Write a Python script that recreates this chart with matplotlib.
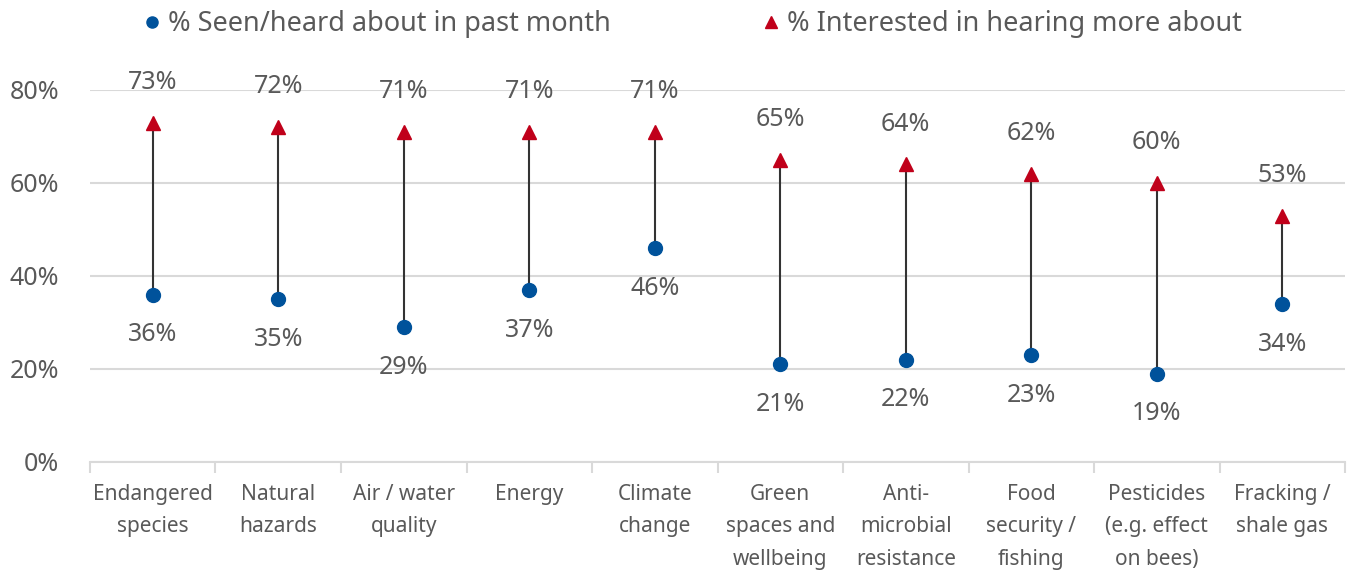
import matplotlib.pyplot as plt
import numpy as np

categories = ["Endangered\nspecies", "Natural\nhazards", "Air / water\nquality", "Energy",
              "Climate\nchange", "Green\nspaces and\nwellbeing", "Anti-\nmicrobial\nresistance",
              "Food\nsecurity /\nfishing", "Pesticides\n(e.g. effect\non bees)", "Fracking /\nshale gas"]
seen = [36, 35, 29, 37, 46, 21, 22, 23, 19, 34]
interested = [73, 72, 71, 71, 71, 65, 64, 62, 60, 53]

blue = '#00529B'
red = '#C0001A'
grey_text = '#595959'

plt.rcParams['font.family'] = ['Noto Sans', 'DejaVu Sans']

fig = plt.figure(figsize=(13.51, 5.71), dpi=100)
ax = fig.add_axes([0.0666, 0.1909, 0.929, 0.6515])

x = np.arange(len(categories))

# connecting lines between the two values
for i in x:
    ax.plot([i, i], [seen[i], interested[i]], color='#333333', lw=1.5, zorder=2)

ax.plot(x, seen, 'o', color=blue, ms=10, zorder=3, label='% Seen/heard about in past month')
ax.plot(x, interested, '^', color=red, ms=10, zorder=3, label='% Interested in hearing more about')

for i in x:
    ax.annotate(f'{interested[i]}%', (i, interested[i]), xytext=(0, 29), textcoords='offset points',
                ha='center', va='center', fontsize=18, color=grey_text, annotation_clip=False)
    ax.annotate(f'{seen[i]}%', (i, seen[i]), xytext=(0, -29), textcoords='offset points',
                ha='center', va='center', fontsize=18, color=grey_text, annotation_clip=False)

ax.set_xlim(-0.5, len(categories) - 0.5)
ax.set_ylim(0, 80)
ax.set_yticks([0, 20, 40, 60, 80])
ax.set_yticklabels([f'{v}%' for v in [0, 20, 40, 60, 80]])
ax.yaxis.grid(True, color='#D9D9D9', lw=1.5)
ax.set_axisbelow(True)

# category labels at centres, tick marks between categories
ax.set_xticks(x)
ax.set_xticklabels(categories, linespacing=1.7)
ax.set_xticks(np.arange(-0.5, len(categories)), minor=True)
ax.tick_params(axis='x', which='major', length=0, pad=16, labelsize=15, labelcolor=grey_text)
ax.tick_params(axis='x', which='minor', length=8, color='#D9D9D9', width=1.5)
ax.tick_params(axis='y', length=0, pad=22, labelsize=18, labelcolor=grey_text)

for side in ['top', 'right', 'left']:
    ax.spines[side].set_visible(False)
ax.spines['bottom'].set_color('#D9D9D9')
ax.spines['bottom'].set_linewidth(1.5)

fig.legend(loc='upper left', bbox_to_anchor=(0.088, 1.025), ncol=2, frameon=False,
           fontsize=19.5, labelcolor=grey_text, handlelength=0.65, handletextpad=0.25,
           columnspacing=5.6, markerscale=0.8)

fig.savefig('out.png', dpi=100)
